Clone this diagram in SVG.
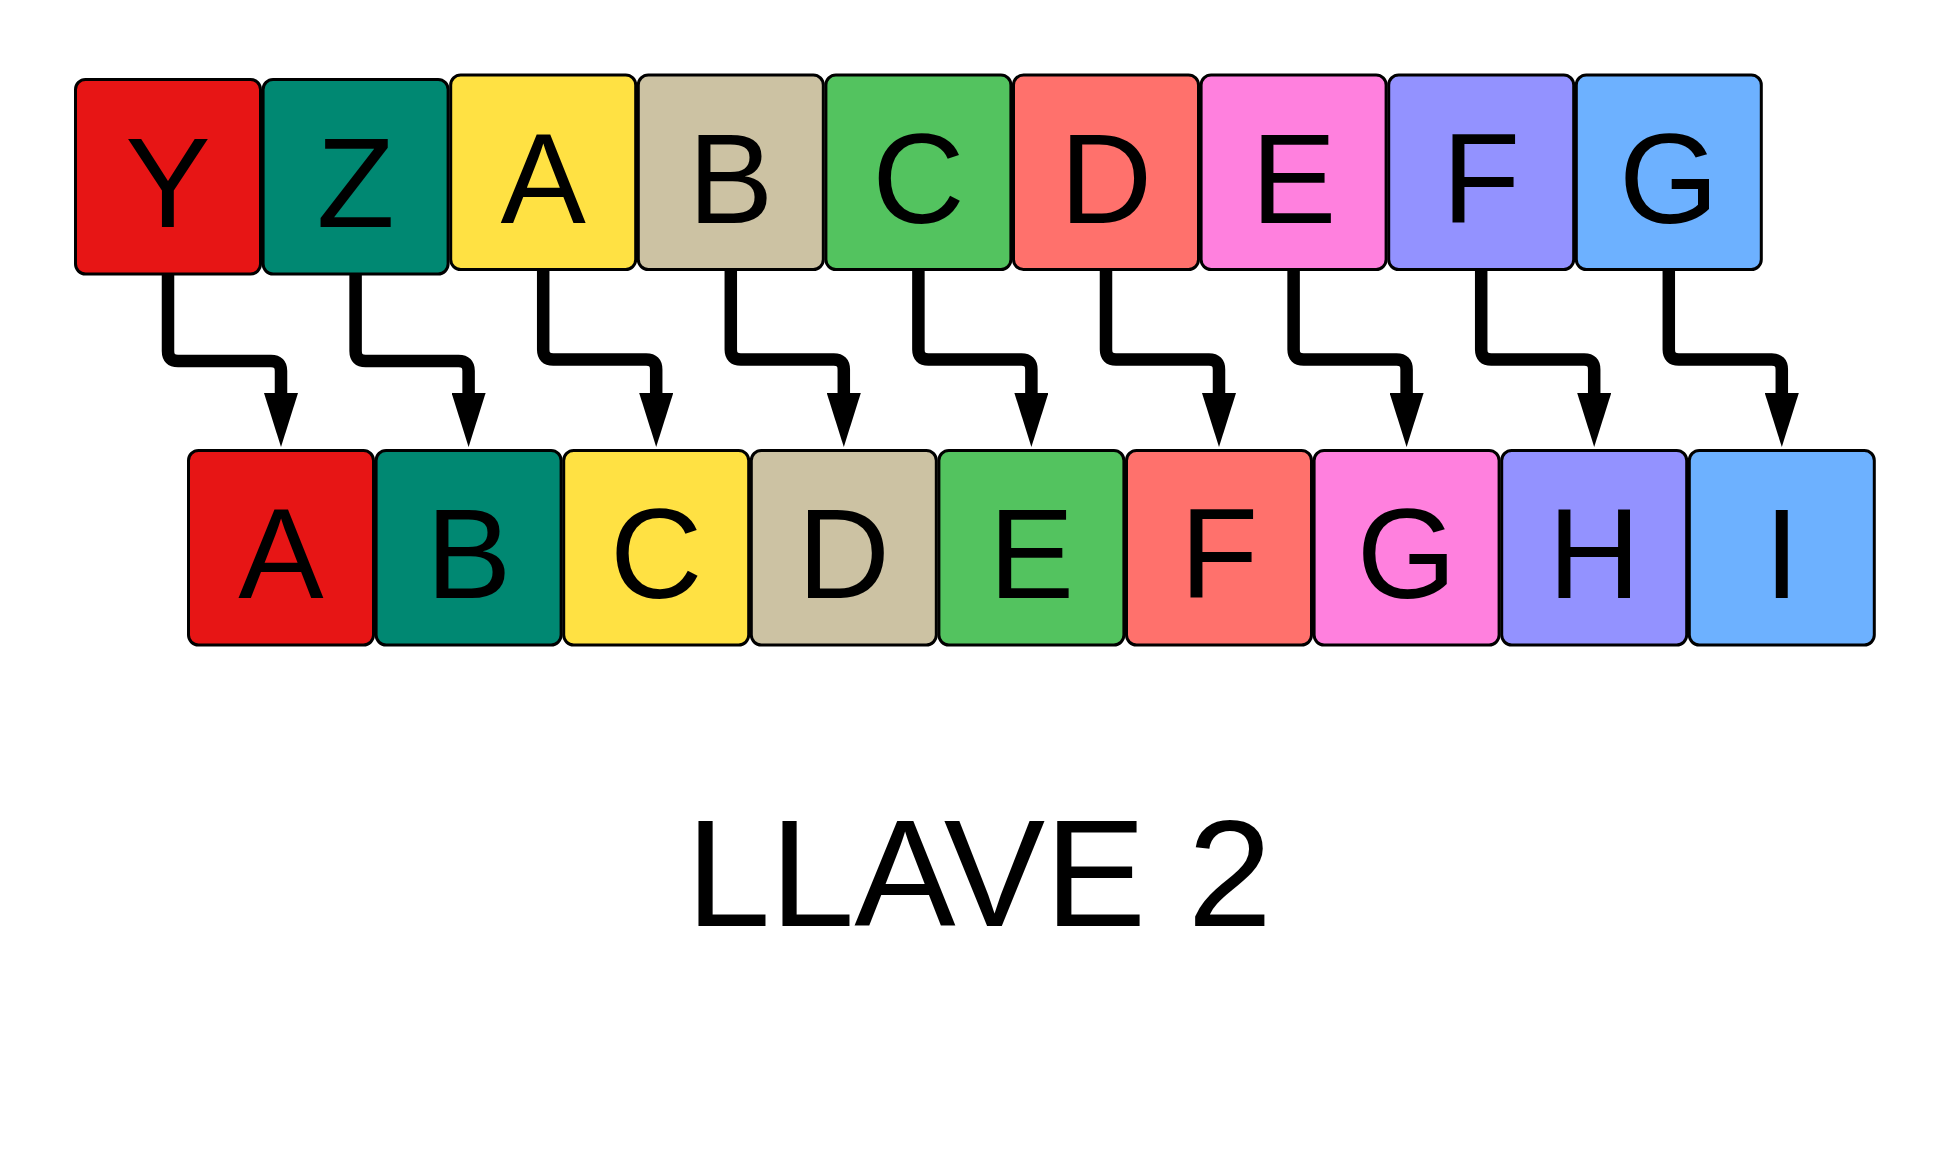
<svg xmlns="http://www.w3.org/2000/svg" width="1950" height="1172" viewBox="0 0 1950 1172">
<defs>
<style>
.box{stroke:#000;stroke-width:3}
.lbl{font-family:"Liberation Sans",Arial,sans-serif;font-size:128px;text-anchor:middle;fill:#000}
.c0{fill:#E71515}.c1{fill:#008872}.c2{fill:#FFE143}.c3{fill:#CCC2A3}.c4{fill:#53C35F}.c5{fill:#FF716C}.c6{fill:#FF80DE}.c7{fill:#9392FF}.c8{fill:#6DB1FF}
.con{fill:none;stroke:#000;stroke-width:12.5;marker-end:url(#ah)}
.title{font-family:"Liberation Sans",Arial,sans-serif;font-size:152px;fill:#000}
</style>
<marker id="ah" viewBox="0 0 54 34" refX="0" refY="17" markerWidth="54" markerHeight="34" markerUnits="userSpaceOnUse" orient="auto">
<path d="M0,0 L54,17 L0,34 Z" fill="#000"/>
</marker>
</defs>
<rect width="1950" height="1172" fill="#fff"/>
<g id="connectors">
<path class="con" d="M168,274 V351 Q168,361 178,361 H271 Q281,361 281,371 V393"/>
<path class="con" d="M355.6,274 V351 Q355.6,361 365.6,361 H458.6 Q468.6,361 468.6,371 V393"/>
<path class="con" d="M543.2,270 V349.5 Q543.2,359.5 553.2,359.5 H646.2 Q656.2,359.5 656.2,369.5 V393"/>
<path class="con" d="M730.8,270 V349.5 Q730.8,359.5 740.8,359.5 H833.8 Q843.8,359.5 843.8,369.5 V393"/>
<path class="con" d="M918.4,270 V349.5 Q918.4,359.5 928.4,359.5 H1021.4 Q1031.4,359.5 1031.4,369.5 V393"/>
<path class="con" d="M1106,270 V349.5 Q1106,359.5 1116,359.5 H1209 Q1219,359.5 1219,369.5 V393"/>
<path class="con" d="M1293.6,270 V349.5 Q1293.6,359.5 1303.6,359.5 H1396.6 Q1406.6,359.5 1406.6,369.5 V393"/>
<path class="con" d="M1481.2,270 V349.5 Q1481.2,359.5 1491.2,359.5 H1584.2 Q1594.2,359.5 1594.2,369.5 V393"/>
<path class="con" d="M1668.8,270 V349.5 Q1668.8,359.5 1678.8,359.5 H1771.8 Q1781.8,359.5 1781.8,369.5 V393"/>
</g>
<g id="top-Y"><rect class="box c0" x="75.5" y="79.5" width="185" height="194.5" rx="10"/><text class="lbl" x="168" y="227">Y</text></g>
<g id="top-Z"><rect class="box c1" x="263.1" y="79.5" width="185" height="194.5" rx="10"/><text class="lbl" x="355.6" y="227">Z</text></g>
<g id="top-A"><rect class="box c2" x="450.7" y="75" width="185" height="194.5" rx="10"/><text class="lbl" x="543.2" y="222.5">A</text></g>
<g id="top-B"><rect class="box c3" x="638.3" y="75" width="185" height="194.5" rx="10"/><text class="lbl" x="730.8" y="222.5">B</text></g>
<g id="top-C"><rect class="box c4" x="825.9" y="75" width="185" height="194.5" rx="10"/><text class="lbl" x="918.4" y="222.5">C</text></g>
<g id="top-D"><rect class="box c5" x="1013.5" y="75" width="185" height="194.5" rx="10"/><text class="lbl" x="1106" y="222.5">D</text></g>
<g id="top-E"><rect class="box c6" x="1201.1" y="75" width="185" height="194.5" rx="10"/><text class="lbl" x="1293.6" y="222.5">E</text></g>
<g id="top-F"><rect class="box c7" x="1388.7" y="75" width="185" height="194.5" rx="10"/><text class="lbl" x="1481.2" y="222.5">F</text></g>
<g id="top-G"><rect class="box c8" x="1576.3" y="75" width="185" height="194.5" rx="10"/><text class="lbl" x="1668.8" y="222.5">G</text></g>
<g id="bot-A"><rect class="box c0" x="188.5" y="450.5" width="185" height="194.5" rx="10"/><text class="lbl" x="281" y="597.5">A</text></g>
<g id="bot-B"><rect class="box c1" x="376.1" y="450.5" width="185" height="194.5" rx="10"/><text class="lbl" x="468.6" y="597.5">B</text></g>
<g id="bot-C"><rect class="box c2" x="563.7" y="450.5" width="185" height="194.5" rx="10"/><text class="lbl" x="656.2" y="597.5">C</text></g>
<g id="bot-D"><rect class="box c3" x="751.3" y="450.5" width="185" height="194.5" rx="10"/><text class="lbl" x="843.8" y="597.5">D</text></g>
<g id="bot-E"><rect class="box c4" x="938.9" y="450.5" width="185" height="194.5" rx="10"/><text class="lbl" x="1031.4" y="597.5">E</text></g>
<g id="bot-F"><rect class="box c5" x="1126.5" y="450.5" width="185" height="194.5" rx="10"/><text class="lbl" x="1219" y="597.5">F</text></g>
<g id="bot-G"><rect class="box c6" x="1314.1" y="450.5" width="185" height="194.5" rx="10"/><text class="lbl" x="1406.6" y="597.5">G</text></g>
<g id="bot-H"><rect class="box c7" x="1501.7" y="450.5" width="185" height="194.5" rx="10"/><text class="lbl" x="1594.2" y="597.5">H</text></g>
<g id="bot-I"><rect class="box c8" x="1689.3" y="450.5" width="185" height="194.5" rx="10"/><text class="lbl" x="1781.8" y="597.5">I</text></g>
<g id="title"><text class="title" x="686" y="926" textLength="586" lengthAdjust="spacing">LLAVE 2</text></g>
</svg>
